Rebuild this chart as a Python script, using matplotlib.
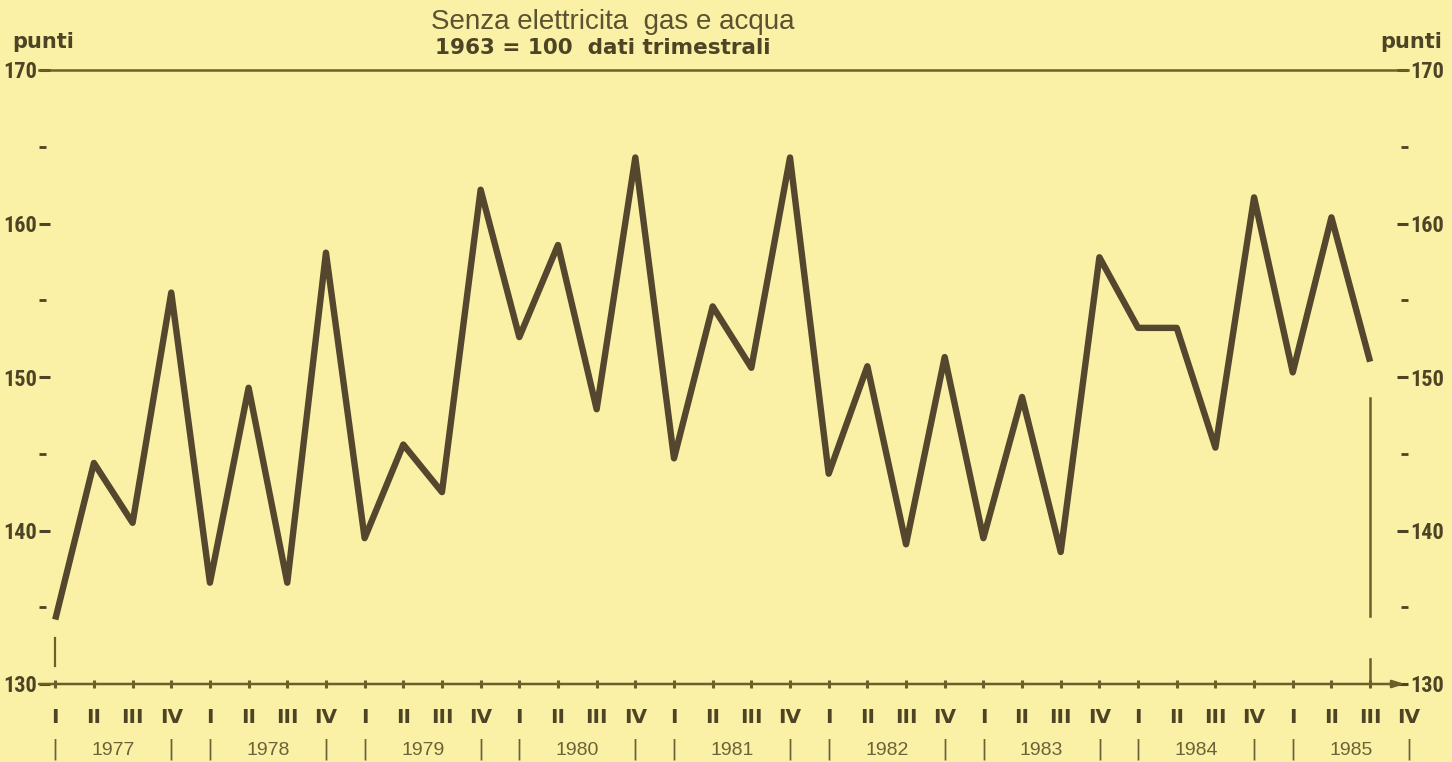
import numpy as np
import matplotlib
matplotlib.use("Agg")
from matplotlib import pyplot as plt
from matplotlib import font_manager

# quarterly index, 1963 = 100, from 1977 Q1 to 1985 Q3
years = [1977, 1978, 1979, 1980, 1981, 1982, 1983, 1984, 1985]
quarters = ["I", "II", "III", "IV"]
values = [134.2, 144.4, 140.5, 155.5, 136.6, 149.3, 136.6, 158.1,
          139.5, 145.6, 142.5, 162.2, 152.6, 158.6, 147.9, 164.3,
          144.7, 154.6, 150.6, 164.3, 143.7, 150.7, 139.1, 151.3,
          139.5, 148.7, 138.6, 157.8, 153.2, 153.2, 145.4, 161.7,
          150.3, 160.4, 151.0]
major_y = [130, 140, 150, 160, 170]
minor_y = [135, 145, 155, 165]

bg = "#fbf1a6"
ink = "#55472e"
axis_col = "#6b5f2c"
txt_col = "#4c4424"

# pick a narrow font for the numbers if there is one
names = {f.name for f in font_manager.fontManager.ttflist}
narrow = "DejaVu Sans"
for n in ["Liberation Sans Narrow", "Roboto Condensed", "Open Sans Condensed"]:
    if n in names:
        narrow = n
        break
plain = "Liberation Sans" if "Liberation Sans" in names else "DejaVu Sans"

fig = plt.figure(figsize=(14.52, 7.62), dpi=100)
fig.patch.set_facecolor(bg)
ax = fig.add_axes([39 / 1452, 78 / 762, (1408 - 39) / 1452, 614 / 762])
ax.set_facecolor(bg)

x = np.arange(len(values))
ax.plot(x, values, color=ink, lw=4.6, solid_joinstyle="round", solid_capstyle="butt", zorder=3)

ax.set_xlim(-0.42, 34.98)
ax.set_ylim(130, 170)

for s in ["left", "right", "bottom"]:
    ax.spines[s].set_visible(False)
ax.spines["top"].set_color(axis_col)
ax.spines["top"].set_linewidth(1.8)

# bottom axis with arrow
ax.annotate("", xy=(34.9, 130), xytext=(-0.42, 130),
            arrowprops=dict(arrowstyle="-|>,head_length=0.7,head_width=0.22",
                            color=axis_col, lw=1.8, shrinkA=0, shrinkB=0),
            annotation_clip=False, zorder=2)

# quarter ticks
ax.set_xticks(x)
ax.set_xticklabels([])
ax.tick_params(axis="x", direction="inout", length=6, width=2.2, color=axis_col, bottom=True, top=False)

# y ticks on both sides
ax.set_yticks(major_y)
ax.set_yticks(minor_y, minor=True)
ax.tick_params(axis="y", which="both", direction="in", left=True, right=True,
               labelleft=True, labelright=True, color=txt_col)
ax.tick_params(axis="y", which="major", length=8, width=2.2, pad=1.5,
               labelsize=16, labelcolor=txt_col)
ax.tick_params(axis="y", which="minor", length=5, width=2)
for lab in ax.get_yticklabels():
    lab.set_family(narrow)
    lab.set_fontstretch("condensed")
    lab.set_fontweight("bold")

# thin marker strokes
ax.plot([0, 0], [131.2, 133.0], color=axis_col, lw=1.6, clip_on=False)
ax.plot([34, 34], [134.4, 148.6], color=axis_col, lw=1.8, clip_on=False)
ax.plot([34, 34], [130, 131.6], color=axis_col, lw=1.8, clip_on=False)

# quarter labels and years
for i, yr in enumerate(years):
    for q in range(4):
        ax.text(i * 4 + q, 127.85, quarters[q], ha="center", va="center",
                fontsize=14.5, fontweight="bold", color=txt_col, clip_on=False)
    ax.text(i * 4 + 1.5, 125.7, str(yr), ha="center", va="center",
            fontsize=14, color="#6b6238", family=plain, clip_on=False)
    for q in (0, 3):
        ax.text(i * 4 + q, 125.75, "|", ha="center", va="center",
                fontsize=15, color="#6b6238", clip_on=False)

# headings
fig.text(613 / 1452, 1 - 22 / 762, "Senza elettricita  gas e acqua", ha="center", va="center",
         fontsize=20, color="#5a5230", family=plain)
fig.text(603 / 1452, 1 - 48 / 762, "1963 = 100  dati trimestrali", ha="center", va="center",
         fontsize=15.5, fontweight="bold", color=txt_col)
fig.text(12 / 1452, 1 - 42 / 762, "punti", ha="left", va="center",
         fontsize=15, fontweight="bold", color=txt_col)
fig.text(1442 / 1452, 1 - 42 / 762, "punti", ha="right", va="center",
         fontsize=15, fontweight="bold", color=txt_col)

fig.savefig("out.png", dpi=100, facecolor=bg)
